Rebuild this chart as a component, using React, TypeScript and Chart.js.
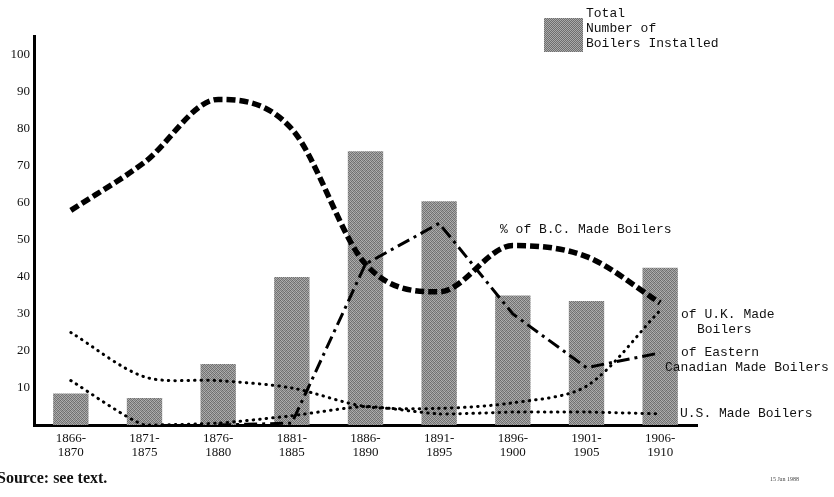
import React, { useEffect, useRef } from 'react';
import { Chart, registerables } from 'chart.js';

Chart.register(...registerables);

const periods: string[][] = [
  ['1866-', '1870'],
  ['1871-', '1875'],
  ['1876-', '1880'],
  ['1881-', '1885'],
  ['1886-', '1890'],
  ['1891-', '1895'],
  ['1896-', '1900'],
  ['1901-', '1905'],
  ['1906-', '1910'],
];
const totalBoilers = [8.5, 7.3, 16.5, 40, 74, 60.5, 35, 33.5, 42.5];
const bcMade = [58, 71, 88, 80, 43.5, 36, 48.5, 45.5, 33];
const ukMade = [25, 13, 12, 10, 5, 4.5, 6, 10.5, 31];
const easternCanadianMade = [null, null, 0, 0.5, 43.5, 54.5, 30, 15.5, 19.5];
const usMade = [12, 0, 0.5, 2.5, 5, 3, 3.5, 3.5, 3];
const yTicks = [10, 20, 30, 40, 50, 60, 70, 80, 90, 100];

function makePattern(ctx: CanvasRenderingContext2D): CanvasPattern | string {
  const c = document.createElement('canvas');
  c.width = 4;
  c.height = 4;
  const p = c.getContext('2d');
  if (!p) return '#8a8a8a';
  const shades = [
    ['#6a6a6a', '#b0b0b0', '#7c7c7c', '#a2a2a2'],
    ['#a6a6a6', '#767676', '#b4b4b4', '#6e6e6e'],
    ['#808080', '#9e9e9e', '#6c6c6c', '#aaaaaa'],
    ['#b2b2b2', '#727272', '#a0a0a0', '#7a7a7a'],
  ];
  for (let y = 0; y < 4; y++) {
    for (let x = 0; x < 4; x++) {
      p.fillStyle = shades[y][x];
      p.fillRect(x, y, 1, 1);
    }
  }
  return ctx.createPattern(c, 'repeat') || '#8a8a8a';
}

const mono = '"Liberation Mono", "DejaVu Sans Mono", monospace';
const serif = '"Liberation Serif", "DejaVu Serif", serif';

export default function App() {
  const ref = useRef<HTMLCanvasElement | null>(null);

  useEffect(() => {
    const canvas = ref.current;
    if (!canvas) return;
    const ctx = canvas.getContext('2d');
    if (!ctx) return;
    const pattern = makePattern(ctx);

    const chart = new Chart(ctx, {
      type: 'bar',
      data: {
        labels: periods,
        datasets: [
          {
            type: 'line',
            label: '% of B.C. Made Boilers',
            data: bcMade,
            borderColor: '#000',
            borderWidth: 5.5,
            borderDash: [9, 4],
            borderCapStyle: 'butt',
            cubicInterpolationMode: 'monotone',
            pointRadius: 0,
            fill: false,
            order: 1,
          },
          {
            type: 'line',
            label: '% of U.K. Made Boilers',
            data: ukMade,
            borderColor: '#000',
            borderWidth: 3,
            borderDash: [0.5, 6],
            borderCapStyle: 'round',
            tension: 0.3,
            pointRadius: 0,
            fill: false,
            order: 1,
          },
          {
            type: 'line',
            label: '% of Eastern Canadian Made Boilers',
            data: easternCanadianMade,
            borderColor: '#000',
            borderWidth: 3,
            borderDash: [13, 5, 3, 5],
            borderCapStyle: 'butt',
            tension: 0,
            pointRadius: 0,
            fill: false,
            spanGaps: false,
            order: 1,
          },
          {
            type: 'line',
            label: '% of U.S. Made Boilers',
            data: usMade,
            borderColor: '#000',
            borderWidth: 3,
            borderDash: [0.5, 6],
            borderCapStyle: 'round',
            tension: 0.2,
            pointRadius: 0,
            fill: false,
            order: 1,
          },
          {
            type: 'bar',
            label: 'Total Number of Boilers Installed',
            data: totalBoilers,
            backgroundColor: pattern as any,
            borderWidth: 0,
            barPercentage: 0.48,
            categoryPercentage: 1,
            order: 10,
          },
        ],
      },
      options: {
        animation: false,
        responsive: false,
        maintainAspectRatio: false,
        layout: { padding: { left: 0, right: 137, top: 36.5, bottom: 22 } },
        plugins: {
          legend: { display: false },
          tooltip: { enabled: false },
        },
        scales: {
          x: {
            offset: true,
            grid: { display: false, drawTicks: false },
            border: { display: true, color: '#000', width: 3 },
            ticks: {
              color: '#111',
              padding: 6,
              maxRotation: 0,
              autoSkip: false,
              font: { family: serif, size: 13, lineHeight: 1.1 },
            },
            afterFit: (s: any) => {
              s.height = 50;
            },
          },
          y: {
            min: 0,
            max: 105,
            grid: { display: false, drawTicks: false },
            border: { display: true, color: '#000', width: 3 },
            afterBuildTicks: (s: any) => {
              s.ticks = yTicks.map((v) => ({ value: v }));
            },
            ticks: {
              color: '#111',
              padding: 4,
              font: { family: serif, size: 13 },
            },
            afterFit: (s: any) => {
              s.width = 34;
            },
          },
        },
      },
    });
    return () => chart.destroy();
  }, []);

  const txt: React.CSSProperties = {
    position: 'absolute',
    fontFamily: mono,
    fontSize: 13,
    color: '#111',
    whiteSpace: 'pre',
    lineHeight: '15px',
  };

  return (
    <div style={{ position: 'fixed', left: 0, top: 0, width: 834, height: 497, background: '#fff', overflow: 'hidden' }}>
      <canvas ref={ref} width={834} height={497} style={{ position: 'absolute', left: 0, top: 0, width: 834, height: 497 }} />
      <div
        style={{
          position: 'absolute',
          left: 544,
          top: 18,
          width: 39,
          height: 34,
          background: 'repeating-conic-gradient(#6e6e6e 0% 25%, #aaaaaa 0% 50%) 0 0 / 2px 2px',
        }}
      />
      <div style={{ ...txt, left: 586, top: 6 }}>{'Total\nNumber of\nBoilers Installed'}</div>
      <div style={{ ...txt, left: 500, top: 222 }}>% of B.C. Made Boilers</div>
      <div style={{ ...txt, left: 681, top: 307 }}>of U.K. Made</div>
      <div style={{ ...txt, left: 697, top: 322 }}>Boilers</div>
      <div style={{ ...txt, left: 681, top: 345 }}>of Eastern</div>
      <div style={{ ...txt, left: 665, top: 360 }}>Canadian Made Boilers</div>
      <div style={{ ...txt, left: 680, top: 406 }}>U.S. Made Boilers</div>
      <div style={{ position: 'absolute', left: -3, top: 469, fontFamily: serif, fontWeight: 'bold', fontSize: 16, color: '#111', whiteSpace: 'pre' }}>
        Source: see text.
      </div>
      <div style={{ position: 'absolute', left: 770, top: 476, fontFamily: serif, fontSize: 6, color: '#444', whiteSpace: 'pre' }}>
        15 Jan 1988
      </div>
    </div>
  );
}
